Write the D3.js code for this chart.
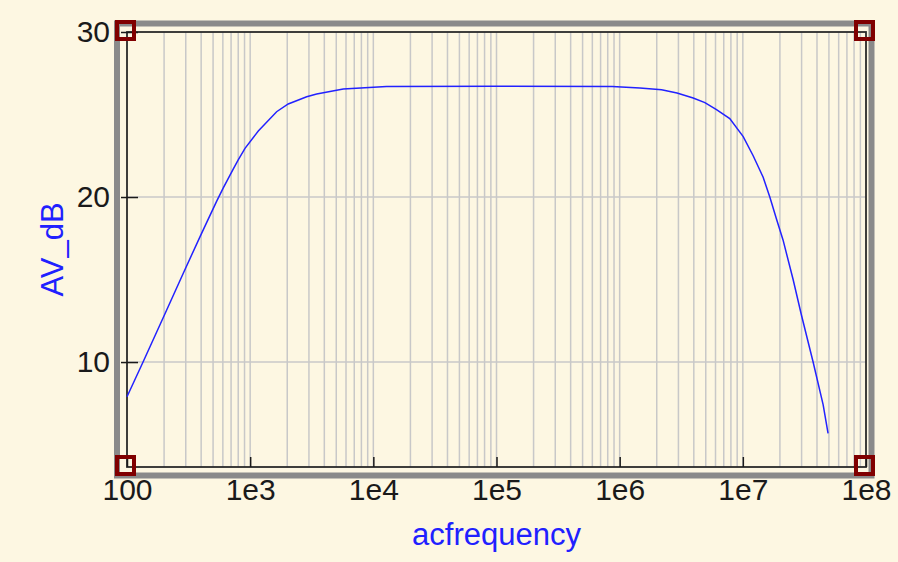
<!DOCTYPE html>
<meta charset="utf-8">
<style>
    body { margin: 0; background: #fdf7e2; }
    text { font-family: "Liberation Sans", Arial, sans-serif; }
    .tick text { font-size: 30px; fill: #1a1a1a; }
    .grid line { stroke: #c8c8c8; stroke-width: 1.5px; }
    .curve { fill: none; stroke: #2222ff; stroke-width: 1.5px; }
</style>
<svg id="f" width="898" height="562"></svg>
<script src="https://cdn.jsdelivr.net/npm/d3@7"></script>
<script>
    // AC sweep result
    var freqHz = [100, 135, 210, 287, 392, 443, 535, 605, 730, 800, 908, 1164, 1640, 2037, 2877, 3467, 5700, 12800,
        1e5, 8.7e5, 1.46e6, 2.19e6, 2.92e6, 3.95e6, 4.92e6, 6.11e6, 7.83e6, 1.007e7, 1.213e7, 1.462e7, 1.656e7,
        1.87e7, 2.12e7, 2.56e7, 2.99e7, 3.72e7, 4.49e7, 4.92e7];
    var avDb = [7.9, 10.0, 13.15, 15.4, 17.6, 18.45, 19.75, 20.55, 21.7, 22.25, 22.95, 24.0, 25.17, 25.64, 26.08, 26.24, 26.55, 26.69,
        26.72, 26.69, 26.6, 26.5, 26.3, 26.0, 25.72, 25.3, 24.75, 23.66, 22.5, 21.2, 20.0,
        18.7, 17.4, 15.0, 12.85, 10.0, 7.4, 5.68];

    var xDomain = [100, 1e8],
        yDomain = [3.64, 30],
        xMajor = [100, 1e3, 1e4, 1e5, 1e6, 1e7, 1e8],
        yMajor = [10, 20, 30];

    var svg = d3.select("#f"),
        margin = { top: 32, right: 32, bottom: 95, left: 127 },
        width = 898 - margin.left - margin.right,
        height = 562 - margin.top - margin.bottom,
        g = svg.append("g").attr("transform", "translate(" + margin.left + "," + margin.top + ")");

    var x = d3.scaleLog().domain(xDomain).range([0, width]),
        y = d3.scaleLinear().domain(yDomain).range([height, 0]);

    // minor log positions 2..9 in each decade
    var xMinor = [];
    for (var e = 2; e < 8; e++) {
        for (var m = 1; m < 10; m++) {
            var v = m * Math.pow(10, e);
            if (v > xDomain[0] && v < xDomain[1]) xMinor.push(v);
        }
    }

    // outer gray frame
    g.append("rect")
        .attr("x", -10).attr("y", -8.5)
        .attr("width", width + 15.5).attr("height", height + 17)
        .attr("fill", "none")
        .attr("stroke", "#8a8a8a")
        .attr("stroke-width", 6);

    var grid = g.append("g").attr("class", "grid");
    grid.selectAll(".vx")
        .data(xMinor)
        .enter().append("line")
        .attr("x1", d => x(d)).attr("x2", d => x(d))
        .attr("y1", 0).attr("y2", height);
    grid.selectAll(".hy")
        .data(yMajor.filter(d => d < yDomain[1]))
        .enter().append("line")
        .attr("x1", 0).attr("x2", width)
        .attr("y1", d => y(d)).attr("y2", d => y(d));

    // inner black plot box
    g.append("rect")
        .attr("width", width).attr("height", height)
        .attr("fill", "none")
        .attr("stroke", "#2a2a2a")
        .attr("stroke-width", 1.8);

    var fmt = function (d) { return d === 100 ? "100" : "1e" + Math.round(Math.log10(d)); };

    var xAxis = g.append("g")
        .attr("transform", "translate(0," + height + ")")
        .call(d3.axisBottom(x).tickValues(xMajor).tickFormat(fmt).tickSizeInner(-10).tickSizeOuter(0).tickPadding(12));
    xAxis.select(".domain").remove();
    xAxis.selectAll(".tick line").attr("stroke", "#1a1a1a").attr("stroke-width", 1.5);

    var yAxis = g.append("g")
        .call(d3.axisLeft(y).tickValues(yMajor).tickSizeInner(6).tickSizeOuter(0).tickPadding(11));
    yAxis.select(".domain").remove();
    yAxis.selectAll(".tick line").attr("x2", 11).attr("x1", -6).attr("stroke", "#1a1a1a").attr("stroke-width", 1.5);

    var line = d3.line()
        .x(function (d, i) { return x(freqHz[i]); })
        .y(function (d) { return y(d); });

    g.append("path")
        .datum(avDb)
        .attr("class", "curve")
        .attr("d", line);

    // corner markers
    var corners = [[xDomain[0], yDomain[1]], [xDomain[1], yDomain[1]], [xDomain[0], yDomain[0]], [xDomain[1], yDomain[0]]];
    g.selectAll(".corner")
        .data(corners)
        .enter().append("rect")
        .attr("class", "corner")
        .attr("x", d => x(d[0]) - 10)
        .attr("y", d => y(d[1]) - 10)
        .attr("width", 17).attr("height", 17)
        .attr("fill", "none")
        .attr("stroke", "#800000")
        .attr("stroke-width", 4);

    g.append("text")
        .attr("x", width / 2)
        .attr("y", height + 78)
        .attr("text-anchor", "middle")
        .attr("fill", "#2020ff")
        .style("font-size", "31px")
        .text("acfrequency");

    g.append("text")
        .attr("transform", "rotate(-90)")
        .attr("x", -height / 2)
        .attr("y", -64)
        .attr("text-anchor", "middle")
        .attr("fill", "#2020ff")
        .style("font-size", "31px")
        .text("AV_dB");
</script>
